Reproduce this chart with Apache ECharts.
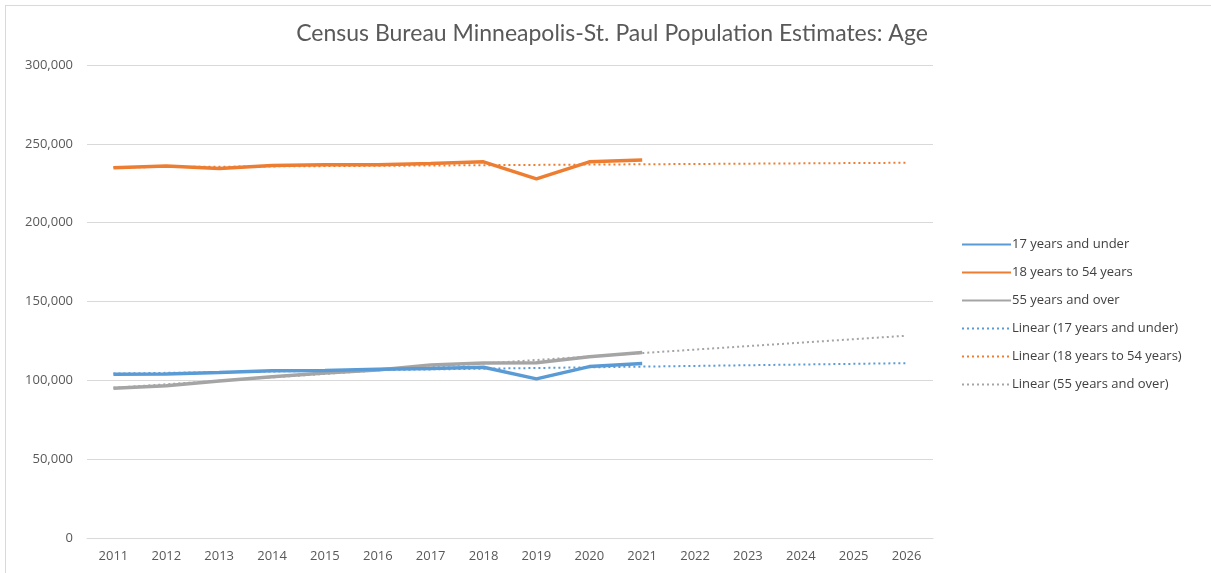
<!DOCTYPE html>
<html><head><meta charset="utf-8">
<script src="https://cdn.jsdelivr.net/npm/echarts@6/dist/echarts.min.js"></script>
<style>
html,body{margin:0;padding:0;background:#fff;}
#frame{position:absolute;left:5px;top:5px;width:1220px;height:580px;border:1px solid #d9d9d9;box-sizing:border-box;}
#chart{position:absolute;left:0;top:0;width:1211px;height:573px;}
</style></head>
<body>
<div id="frame"></div>
<div id="chart"></div>
<script>
const titleText = 'Census Bureau Minneapolis-St. Paul Population Estimates: Age';
const years = ['2011','2012','2013','2014','2015','2016','2017','2018','2019','2020','2021','2022','2023','2024','2025','2026'];
const seriesNames = ['17 years and under','18 years to 54 years','55 years and over'];
const under17 = [103900,104000,104900,106000,106300,107000,107500,108300,100900,108700,110600];
const age18to54 = [234800,236000,234300,236200,236700,236700,237500,238600,227800,238600,239800];
const over55 = [95000,96600,99600,102200,104700,106600,109800,111000,111200,115000,117600];
// Trendline endpoints (2011, 2026)
const trendUnder17 = [104300,110900];
const trend18to54 = [235100,238000];
const trendOver55 = [95300,128300];
const yTicks = {min:0,max:300000,interval:50000};

const colors = ['#5b9bd5','#ed7d31','#a5a5a5'];
function trendData(ends){
  const d = years.map(()=>null);
  d[0]=ends[0]; d[years.length-1]=ends[1];
  return d;
}
const chart = echarts.init(document.getElementById('chart'));
const solid = (name,data,c,z)=>({name,type:'line',data,symbol:'circle',showSymbol:false,z,
  lineStyle:{color:c,width:3.5},itemStyle:{color:c},emphasis:{disabled:true}});
const trend = (name,ends,c)=>({name,type:'line',data:trendData(ends),connectNulls:true,symbol:'circle',showSymbol:false,z:1,
  lineStyle:{color:c,width:2,type:[2,3]},itemStyle:{color:c},emphasis:{disabled:true}});
chart.setOption({
  animation:false,
  title:{text:titleText,left:607,textAlign:'center',top:17,
    textStyle:{fontFamily:'Lato',fontWeight:'normal',fontSize:23,color:'#595959'}},
  grid:{left:87,right:278,top:65,bottom:35},
  legend:{orient:'vertical',left:956,top:233,itemWidth:49,itemHeight:14,itemGap:15,
    itemStyle:{opacity:0},
    textStyle:{fontFamily:'Open Sans',fontSize:13,color:'#404040',padding:[0,0,0,-4]},
    data:[seriesNames[0],seriesNames[1],seriesNames[2],
      'Linear ('+seriesNames[0]+')','Linear ('+seriesNames[1]+')','Linear ('+seriesNames[2]+')']},
  xAxis:{type:'category',data:years,boundaryGap:true,
    axisLine:{lineStyle:{color:'#d9d9d9',width:1}},axisTick:{show:false},
    axisLabel:{color:'#595959',fontFamily:'Open Sans',fontSize:13,margin:12}},
  yAxis:{type:'value',min:yTicks.min,max:yTicks.max,interval:yTicks.interval,
    axisLine:{show:false},axisTick:{show:false},
    splitLine:{lineStyle:{color:'#d9d9d9',width:1}},
    axisLabel:{color:'#595959',fontFamily:'Open Sans',fontSize:13,margin:14,
      formatter:v=>v.toLocaleString('en-US')}},
  series:[
    solid(seriesNames[0],under17,colors[0],3),
    solid(seriesNames[1],age18to54,colors[1],3),
    solid(seriesNames[2],over55,colors[2],2),
    trend('Linear ('+seriesNames[0]+')',trendUnder17,colors[0]),
    trend('Linear ('+seriesNames[1]+')',trend18to54,colors[1]),
    trend('Linear ('+seriesNames[2]+')',trendOver55,colors[2])
  ]
});
</script>
</body></html>
